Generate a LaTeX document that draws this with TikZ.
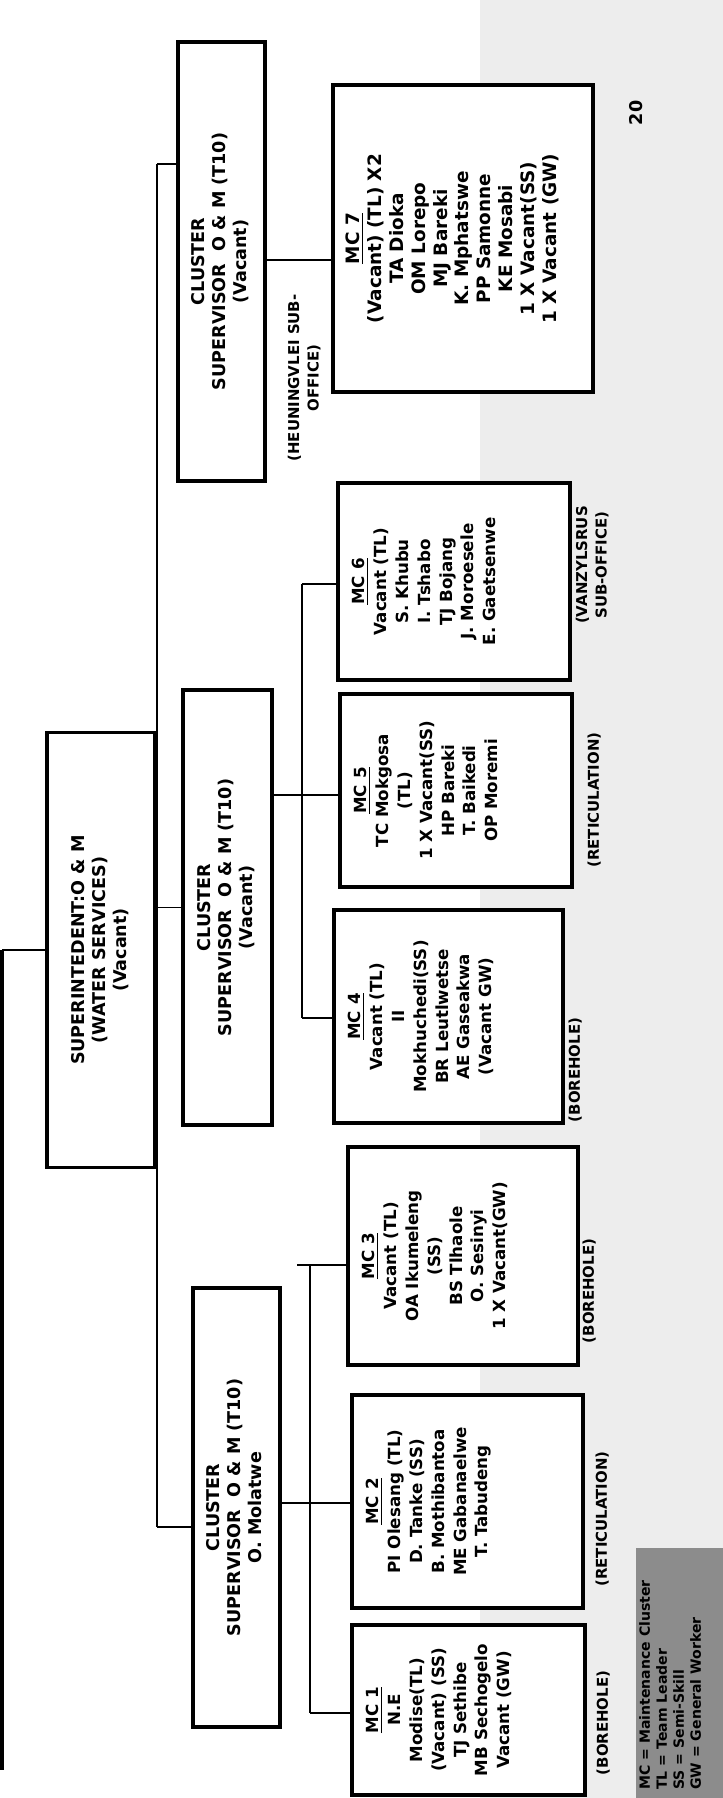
\documentclass[tikz,border=0pt]{standalone}
\usepackage{fontspec}
\setmainfont{DejaVu Sans}
\newcommand{\vtext}[1]{\rotatebox{90}{\begin{tabular}{@{}c@{}}#1\end{tabular}}}
\newcommand{\vtextl}[1]{\rotatebox{90}{\begin{tabular}{@{}l@{}}#1\end{tabular}}}

\begin{document}
\begin{tikzpicture}[
    x=0.02cm, y=-0.02cm,
    box/.style={draw, fill=white, line width=1.8pt, inner sep=0pt},
    headtext/.style={font=\fontsize{10}{12}\selectfont\bfseries},
    mctext/.style={anchor=west, inner sep=0pt, font=\fontsize{9.5}{12.5}\selectfont\bfseries},
    tag/.style={inner sep=0pt, font=\fontsize{8.5}{11}\selectfont\bfseries},
    link/.style={line width=0.7pt}
]
\useasboundingbox (0,0) rectangle (723,1798);

% Background
\fill[black!7] (480,0) rectangle (723,1798);

% Nodes
\node[box, headtext, minimum width=2.16cm, minimum height=8.7cm] (sup) at (101,950)
    {\vtext{SUPERINTEDENT:O \& M\\(WATER SERVICES)\\(Vacant)}};
\node[box, headtext, minimum width=1.74cm, minimum height=8.78cm] (cl3) at (221.5,261.5)
    {\vtext{CLUSTER\\SUPERVISOR\ \ O \& M (T10)\\(Vacant)}};
\node[box, headtext, minimum width=1.78cm, minimum height=8.7cm] (cl2) at (227.5,907.5)
    {\vtext{CLUSTER\\SUPERVISOR\ \ O \& M (T10)\\(Vacant)}};
\node[box, headtext, minimum width=1.74cm, minimum height=8.78cm] (cl1) at (236.5,1507.5)
    {\vtext{CLUSTER\\SUPERVISOR\ \ O \& M (T10)\\O. Molatwe}};

\node[box, minimum width=5.2cm, minimum height=6.14cm] (mc7) at (463,238.5) {};
\node[box, minimum width=4.64cm, minimum height=3.94cm] (mc6) at (454,581.5) {};
\node[box, minimum width=4.64cm, minimum height=3.86cm] (mc5) at (456,790.5) {};
\node[box, minimum width=4.58cm, minimum height=4.26cm] (mc4) at (448.5,1016.5) {};
\node[box, minimum width=4.6cm, minimum height=4.36cm] (mc3) at (463,1256) {};
\node[box, minimum width=4.62cm, minimum height=4.26cm] (mc2) at (467.5,1501.5) {};
\node[box, minimum width=4.66cm, minimum height=3.4cm] (mc1) at (468.5,1710) {};

\node[mctext, font=\fontsize{10.5}{12.5}\selectfont\bfseries] (mc7txt) at ([xshift=0.24cm]mc7.west)
    {\vtext{\underline{MC 7}\\(Vacant) (TL) X2\\TA Dioka\\OM Lorepo\\MJ Bareki\\K. Mphatswe\\PP Samonne\\KE Mosabi\\1 X Vacant(SS)\\1 X Vacant (GW)}};
\node[mctext] (mc6txt) at ([xshift=0.24cm]mc6.west)
    {\vtext{\underline{MC 6}\\Vacant (TL)\\S. Khubu\\I. Tshabo\\TJ Bojang\\J. Moroesele\\E. Gaetsenwe}};
\node[mctext] (mc5txt) at ([xshift=0.24cm]mc5.west)
    {\vtext{\underline{MC 5}\\TC Mokgosa\\(TL)\\1 X Vacant(SS)\\HP Bareki\\T. Baikedi\\OP Moremi}};
\node[mctext] (mc4txt) at ([xshift=0.24cm]mc4.west)
    {\vtext{\underline{MC 4}\\Vacant (TL)\\II\\Mokhuchedi(SS)\\BR Leutlwetse\\AE Gaseakwa\\(Vacant GW)}};
\node[mctext] (mc3txt) at ([xshift=0.24cm]mc3.west)
    {\vtext{\underline{MC 3}\\Vacant (TL)\\OA Ikumeleng\\(SS)\\BS Tlhaole\\O. Sesinyi\\1 X Vacant(GW)}};
\node[mctext] (mc2txt) at ([xshift=0.24cm]mc2.west)
    {\vtext{\underline{MC 2}\\PI Olesang (TL)\\D. Tanke (SS)\\B. Mothibantoa\\ME Gabanaelwe\\T. Tabudeng}};
\node[mctext] (mc1txt) at ([xshift=0.24cm]mc1.west)
    {\vtext{\underline{MC 1}\\N.E\\Modise(TL)\\(Vacant) (SS)\\TJ Sethibe\\MB Sechogelo\\Vacant (GW)}};

% Area labels
\node[tag] (heuning) at (305,378) {\vtext{(HEUNINGVLEI SUB-\\OFFICE)}};
\node[tag] (vanzyl) at (593,565) {\vtext{(VANZYLSRUS\\SUB-OFFICE)}};
\node[tag] (reti5) at (595,800) {\vtext{(RETICULATION)}};
\node[tag] (bore4) at (576,1070) {\vtext{(BOREHOLE)}};
\node[tag] (bore3) at (590,1291) {\vtext{(BOREHOLE)}};
\node[tag] (reti2) at (603,1519) {\vtext{(RETICULATION)}};
\node[tag] (bore1) at (604,1723) {\vtext{(BOREHOLE)}};

% Key and page number
\node[fill=black!45, minimum width=1.74cm, minimum height=5.0cm, inner sep=0pt] (key) at (679.5,1673) {};
\node[anchor=south, inner sep=0pt, font=\fontsize{8}{9.7}\selectfont\bfseries] (keytxt) at (672,1790)
    {\vtextl{MC = Maintenance Cluster\\TL = Team Leader\\SS = Semi-Skill\\GW = General Worker}};
\node[inner sep=0pt, font=\fontsize{10}{12}\selectfont\bfseries] (page) at (636,113) {\rotatebox{90}{20}};

% Connectors
\coordinate (edgetop) at (2,950);
\coordinate (edgebot) at (2,1770);
\draw[line width=2pt] (edgetop) -- (edgebot);
\draw[link] (edgetop) -- (sup.west);

\coordinate (bustop) at (157,164);
\coordinate (busbot) at (157,1527);
\draw[link] (bustop) -- (busbot);
\draw[link] (bustop) -- (bustop -| cl3.west);
\draw[link] (cl2.west -| bustop) -- (cl2.west);
\draw[link] (busbot) -- (busbot -| cl1.west);

\coordinate (j7) at (300,260);
\draw[link] (cl3.east |- j7) -- (mc7.west |- j7);

\coordinate (j6) at (302,584);
\coordinate (j5) at (302,795);
\coordinate (j4) at (302,1018);
\draw[link] (cl2.east |- j5) -- (mc5.west |- j5);
\draw[link] (j6) -- (j4);
\draw[link] (j6) -- (mc6.west |- j6);
\draw[link] (j4) -- (mc4.west |- j4);

\coordinate (j3) at (310,1265);
\coordinate (j2) at (310,1503);
\coordinate (j1) at (310,1713);
\coordinate (j3end) at (297,1265);
\draw[link] (cl1.east |- j2) -- (mc2.west |- j2);
\draw[link] (j3) -- (j1);
\draw[link] (j3end) -- (mc3.west |- j3);
\draw[link] (j1) -- (mc1.west |- j1);

\end{tikzpicture}
\end{document}
